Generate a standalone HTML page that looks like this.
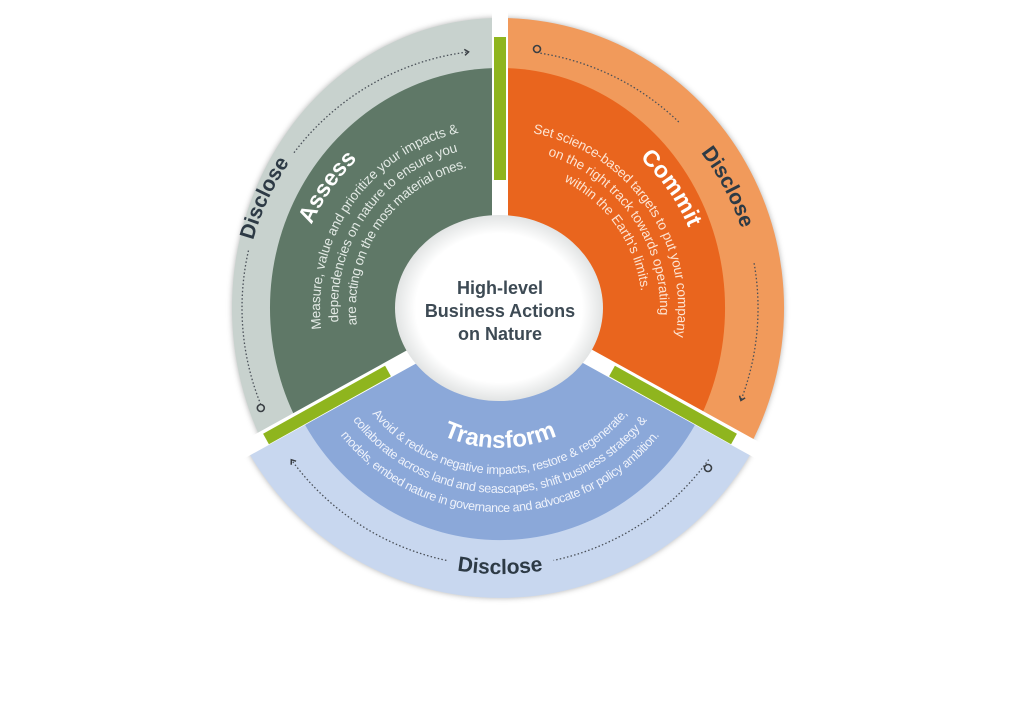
<!DOCTYPE html>
<html><head><meta charset="utf-8"><style>
html,body{margin:0;padding:0;background:#fff;}
svg{display:block;}
text{font-family:"Liberation Sans",sans-serif;}
</style></head><body>
<svg width="1024" height="724" viewBox="0 0 1024 724" xmlns="http://www.w3.org/2000/svg">
<defs>
<radialGradient id="wg" cx="50%" cy="50%" r="50%">
<stop offset="0.8" stop-color="#ffffff"/><stop offset="1" stop-color="#e2e4e4"/>
</radialGradient>
<marker id="ar" markerWidth="8" markerHeight="8" refX="5" refY="4" orient="auto" markerUnits="userSpaceOnUse">
<path d="M1,1 L5,4 L1,7" fill="none" stroke="#3a3f44" stroke-width="1.5"/>
</marker>
<path id="a1" d="M313.3,395.1 A206,206 0 0,1 518.0,102.8"/>
<path id="a2" d="M336.9,384.1 A180,180 0 0,1 515.7,128.7"/>
<path id="a3" d="M353.2,376.5 A162,162 0 0,1 514.1,146.6"/>
<path id="a4" d="M369.5,368.9 A144,144 0 0,1 512.6,164.5"/>
<path id="c1" d="M482.1,103.8 A205,205 0 0,1 685.8,394.6"/>
<path id="c2" d="M484.5,130.7 A178,178 0 0,1 661.3,383.2"/>
<path id="c3" d="M486.0,148.6 A160,160 0 0,1 645.0,375.6"/>
<path id="c4" d="M487.6,166.5 A142,142 0 0,1 628.7,368.0"/>
<path id="t1" d="M378.8,378 A140,140 0 0,0 621.2,378"/>
<path id="t2" d="M356.2,391 A166,166 0 0,0 643.8,391"/>
<path id="t3" d="M339.8,400.5 A185,185 0 0,0 660.2,400.5"/>
<path id="t4" d="M323.3,410 A204,204 0 0,0 676.7,410"/>
<path id="d1" d="M290.3,454.8 A256,256 0 0,1 477.7,53.0"/>
<path id="d2" d="M508.9,54.2 A254,254 0 0,1 715.4,442.6"/>
<path id="d3" d="M269.6,441 A266,266 0 0,0 730.4,441"/>
</defs>
<g style="filter:drop-shadow(0 0 3px rgba(0,0,0,0.3))">
<path d="M500,308 L267.9,453 A268,290 0 0,1 500,18 Z" fill="#c8d2ce"/>
<path d="M500,308 L300.8,428 A230,240 0 0,1 500,68 Z" fill="#5f7867"/>
<path d="M500,308 L500,18 A284,290 0 0,1 746,453 Z" fill="#f19a5b"/>
<path d="M500,308 L500,68 A225,240 0 0,1 694.9,428 Z" fill="#e9651e"/>
<path d="M500,308 L751.1,453 A290,290 0 0,1 248.9,453 Z" fill="#c8d7ef"/>
<path d="M500,308 L694.9,425 A225,230 0 0,1 305.1,425 Z" fill="#8ba8d9"/>
</g>
<g stroke="#fff" stroke-width="16">
<line x1="500" y1="308" x2="500" y2="5"/>
<line x1="500" y1="308" x2="225" y2="460"/>
<line x1="500" y1="308" x2="775" y2="460"/>
</g>
<g stroke="#8fb51e" stroke-width="12">
<line x1="500" y1="37" x2="500" y2="180"/>
<line x1="388" y1="371" x2="266" y2="439"/>
<line x1="612" y1="371" x2="734" y2="439"/>
</g>
<ellipse cx="499" cy="308" rx="104" ry="93" fill="url(#wg)"/>
<g font-weight="bold" fill="#3d4a54" font-size="18" text-anchor="middle">
<text x="500" y="294">High-level</text>
<text x="500" y="317">Business Actions</text>
<text x="500" y="340">on Nature</text>
</g>
<g fill="none" stroke="#4a5058" stroke-width="1.3" stroke-dasharray="1.5 2.2">
<path d="M260.8,404.6 A258,258 0 0,1 248.6,250"/>
<path d="M294,152.7 A258,258 0 0,1 468.6,51.9" marker-end="url(#ar)"/>
<path d="M540.4,53.2 A258,258 0 0,1 679.2,122.4"/>
<path d="M754.1,263.2 A258,258 0 0,1 740.9,400.5" marker-end="url(#ar)"/>
<path d="M708.7,459.6 A258,258 0 0,1 553.6,560.4"/>
<path d="M446.4,560.4 A258,258 0 0,1 291.3,459.7" marker-end="url(#ar)"/>
</g>
<g fill="none" stroke="#3a3f44" stroke-width="1.6">
<circle cx="260.8" cy="408" r="3.5"/>
<circle cx="537" cy="49" r="3.5"/>
<circle cx="708" cy="468" r="3.5"/>
</g>
<g font-weight="bold" fill="#2d3a45" font-size="21" text-anchor="middle">
<text><textPath href="#d1" startOffset="50%">Disclose</textPath></text>
<text><textPath href="#d2" startOffset="50%">Disclose</textPath></text>
<text><textPath href="#d3" startOffset="50%">Disclose</textPath></text>
</g>
<g text-anchor="middle">
<text font-weight="bold" font-size="23" fill="#fff"><textPath href="#a1" startOffset="50%">Assess</textPath></text>
<text font-size="13.5" fill="#e3eae5"><textPath href="#a2" startOffset="50%" textLength="262" lengthAdjust="spacing">Measure, value and prioritize your impacts &amp;</textPath></text>
<text font-size="13.5" fill="#e3eae5"><textPath href="#a3" startOffset="50%" textLength="226" lengthAdjust="spacing">dependencies on nature to ensure you</textPath></text>
<text font-size="13.5" fill="#e3eae5"><textPath href="#a4" startOffset="50%" textLength="210" lengthAdjust="spacing">are acting on the most material ones.</textPath></text>
<text font-weight="bold" font-size="23" fill="#fff"><textPath href="#c1" startOffset="50%">Commit</textPath></text>
<text font-size="13.5" fill="#fde4d2"><textPath href="#c2" startOffset="50%" textLength="275" lengthAdjust="spacing">Set science-based targets to put your company</textPath></text>
<text font-size="13.5" fill="#fde4d2"><textPath href="#c3" startOffset="50%" textLength="210" lengthAdjust="spacing">on the right track towards operating</textPath></text>
<text font-size="13.5" fill="#fde4d2"><textPath href="#c4" startOffset="50%" textLength="140" lengthAdjust="spacing">within the Earth's limits.</textPath></text>
<text font-weight="bold" font-size="24" fill="#fff"><textPath href="#t1" startOffset="50%">Transform</textPath></text>
<text font-size="12.5" fill="#eef2fb"><textPath href="#t2" startOffset="50%" textLength="292" lengthAdjust="spacing">Avoid &amp; reduce negative impacts, restore &amp; regenerate,</textPath></text>
<text font-size="12.5" fill="#eef2fb"><textPath href="#t3" startOffset="50%" textLength="340" lengthAdjust="spacing">collaborate across land and seascapes, shift business strategy &amp;</textPath></text>
<text font-size="12.5" fill="#eef2fb"><textPath href="#t4" startOffset="50%" textLength="366" lengthAdjust="spacing">models, embed nature in governance and advocate for policy ambition.</textPath></text>
</g>
</svg>
</body></html>
